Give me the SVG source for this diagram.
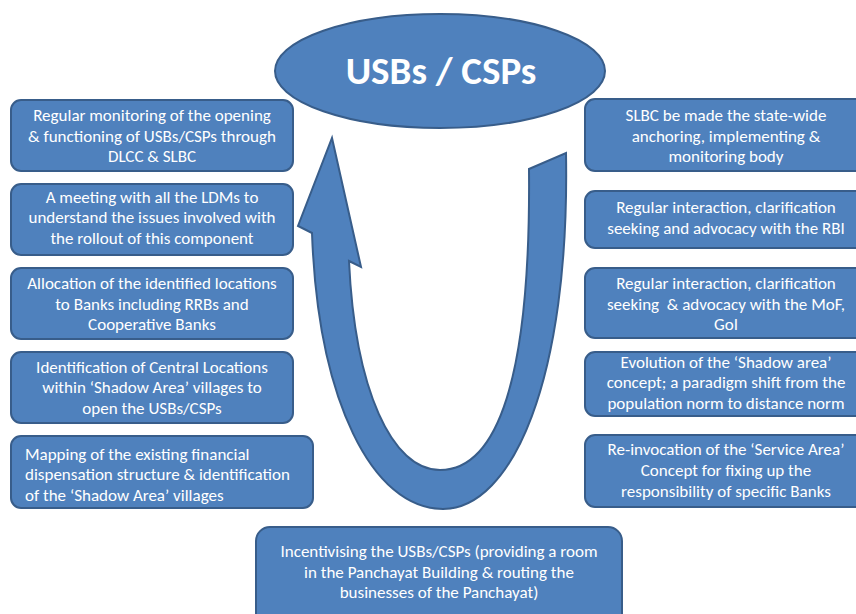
<svg xmlns="http://www.w3.org/2000/svg" width="856" height="614" viewBox="0 0 856 614">
  <style>
    .shape { fill: #4F81BD; stroke: #385D8A; stroke-width: 2; }
    .lbl { fill: #FFFFFF; font-family: Carlito, Lato, "Open Sans", sans-serif; font-size: 17px; text-anchor: middle; }
    .lbl-left { text-anchor: start; }
    .title { fill: #FFFFFF; font-family: Carlito, Lato, "Open Sans", sans-serif; font-size: 39px; font-weight: bold; text-anchor: middle; }
  </style>
  <rect width="856" height="614" fill="#FFFFFF"/>

  <!-- central hub -->
  <g id="hub">
    <ellipse class="shape" cx="440" cy="71" rx="165" ry="57"/>
    <text class="title" x="441" y="84">USBs / CSPs</text>
  </g>

  <!-- cycle arrow -->
  <g id="connectors">
    <path class="shape" d="M566,153 C570,380 512,509 443,509 C372,509 318,400 312,233 L298,226 L332,138 L361,267 L349,261 C355,390 392,470 440,470 C497,470 531,380 529,169 Z"/>
  </g>

  <!-- left column -->
  <g id="left-1">
    <rect class="shape" x="11" y="100" width="282" height="71" rx="10"/>
    <text class="lbl" x="152" y="121">Regular monitoring of the opening</text>
    <text class="lbl" x="152" y="142">&amp; functioning of USBs/CSPs through</text>
    <text class="lbl" x="152" y="162">DLCC &amp; SLBC</text>
  </g>
  <g id="left-2">
    <rect class="shape" x="11" y="184" width="282" height="71" rx="10"/>
    <text class="lbl" x="152" y="203">A meeting with all the LDMs to</text>
    <text class="lbl" x="152" y="223">understand the issues involved with</text>
    <text class="lbl" x="152" y="244">the rollout of this component</text>
  </g>
  <g id="left-3">
    <rect class="shape" x="11" y="268" width="282" height="71" rx="10"/>
    <text class="lbl" x="152" y="289">Allocation of the identified locations</text>
    <text class="lbl" x="152" y="310">to Banks including RRBs and</text>
    <text class="lbl" x="152" y="330">Cooperative Banks</text>
  </g>
  <g id="left-4">
    <rect class="shape" x="11" y="352" width="282" height="71" rx="10"/>
    <text class="lbl" x="152" y="373">Identification of Central Locations</text>
    <text class="lbl" x="152" y="393">within ‘Shadow Area’ villages to</text>
    <text class="lbl" x="152" y="414">open the USBs/CSPs</text>
  </g>
  <g id="left-5">
    <rect class="shape" x="11" y="436" width="302" height="72" rx="10"/>
    <text class="lbl lbl-left" x="25" y="460">Mapping of the existing financial</text>
    <text class="lbl lbl-left" x="25" y="480">dispensation structure &amp; identification</text>
    <text class="lbl lbl-left" x="25" y="501">of the ‘Shadow Area’ villages</text>
  </g>

  <!-- right column -->
  <g id="right-1">
    <rect class="shape" x="585" y="99" width="282" height="72" rx="10"/>
    <text class="lbl" x="726" y="121">SLBC be made the state-wide</text>
    <text class="lbl" x="726" y="142">anchoring, implementing &amp;</text>
    <text class="lbl" x="726" y="162">monitoring body</text>
  </g>
  <g id="right-2">
    <rect class="shape" x="585" y="191" width="282" height="57" rx="10"/>
    <text class="lbl" x="726" y="213">Regular interaction, clarification</text>
    <text class="lbl" x="726" y="234">seeking and advocacy with the RBI</text>
  </g>
  <g id="right-3">
    <rect class="shape" x="585" y="268" width="282" height="70" rx="10"/>
    <text class="lbl" x="726" y="289">Regular interaction, clarification</text>
    <text class="lbl" x="726" y="310" xml:space="preserve">seeking  &amp; advocacy with the MoF,</text>
    <text class="lbl" x="726" y="330">GoI</text>
  </g>
  <g id="right-4">
    <rect class="shape" x="585" y="352" width="282" height="64" rx="10"/>
    <text class="lbl" x="726" y="368">Evolution of the ‘Shadow area’</text>
    <text class="lbl" x="726" y="388">concept; a paradigm shift from the</text>
    <text class="lbl" x="726" y="409">population norm to distance norm</text>
  </g>
  <g id="right-5">
    <rect class="shape" x="585" y="435" width="282" height="72" rx="10"/>
    <text class="lbl" x="726" y="455">Re-invocation of the ‘Service Area’</text>
    <text class="lbl" x="726" y="476">Concept for fixing up the</text>
    <text class="lbl" x="726" y="497">responsibility of specific Banks</text>
  </g>

  <!-- bottom -->
  <g id="bottom">
    <rect class="shape" x="256" y="527" width="366" height="100" rx="14"/>
    <text class="lbl" x="439" y="557">Incentivising the USBs/CSPs (providing a room</text>
    <text class="lbl" x="439" y="578">in the Panchayat Building &amp; routing the</text>
    <text class="lbl" x="439" y="598">businesses of the Panchayat)</text>
  </g>
</svg>
